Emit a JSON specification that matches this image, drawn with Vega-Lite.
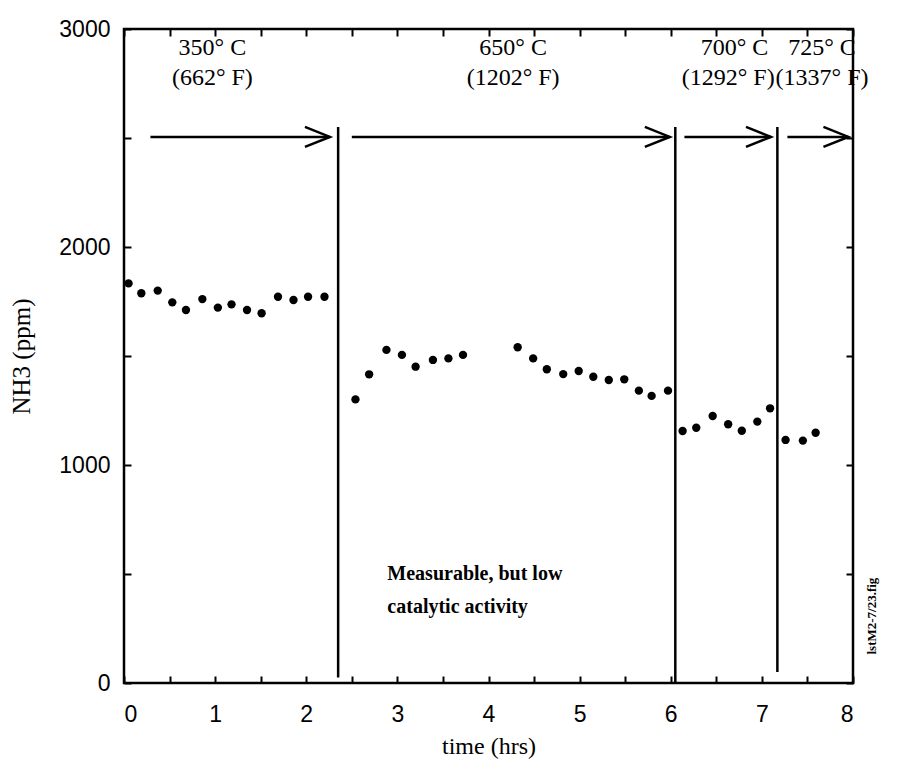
{
  "$schema": "https://vega.github.io/schema/vega-lite/v6.json",
  "width": 729,
  "height": 654,
  "autosize": {"type": "none"},
  "padding": {"left": 124, "top": 29, "right": 48, "bottom": 95},
  "background": "white",
  "config": {
    "view": {"stroke": "black", "strokeWidth": 2.5},
    "axis": {"grid": false, "domain": false, "tickColor": "black", "tickWidth": 2, "labelColor": "black", "titleColor": "black"}
  },
  "datasets": {
    "pts": [
      {"t": 0.05, "nh3": 1833}, {"t": 0.19, "nh3": 1788}, {"t": 0.37, "nh3": 1800}, {"t": 0.53, "nh3": 1746},
      {"t": 0.68, "nh3": 1711}, {"t": 0.86, "nh3": 1761}, {"t": 1.03, "nh3": 1722}, {"t": 1.18, "nh3": 1737},
      {"t": 1.35, "nh3": 1711}, {"t": 1.51, "nh3": 1696}, {"t": 1.69, "nh3": 1772}, {"t": 1.86, "nh3": 1757},
      {"t": 2.02, "nh3": 1772}, {"t": 2.2, "nh3": 1772},
      {"t": 2.54, "nh3": 1301}, {"t": 2.69, "nh3": 1416}, {"t": 2.88, "nh3": 1528}, {"t": 3.05, "nh3": 1505},
      {"t": 3.2, "nh3": 1451}, {"t": 3.39, "nh3": 1482}, {"t": 3.56, "nh3": 1489}, {"t": 3.72, "nh3": 1505},
      {"t": 4.32, "nh3": 1540}, {"t": 4.49, "nh3": 1489}, {"t": 4.64, "nh3": 1439}, {"t": 4.82, "nh3": 1417},
      {"t": 4.99, "nh3": 1431}, {"t": 5.15, "nh3": 1405}, {"t": 5.32, "nh3": 1390}, {"t": 5.49, "nh3": 1393},
      {"t": 5.65, "nh3": 1341}, {"t": 5.79, "nh3": 1317}, {"t": 5.97, "nh3": 1341},
      {"t": 6.13, "nh3": 1156}, {"t": 6.28, "nh3": 1171}, {"t": 6.46, "nh3": 1225}, {"t": 6.63, "nh3": 1187},
      {"t": 6.78, "nh3": 1157}, {"t": 6.95, "nh3": 1199}, {"t": 7.09, "nh3": 1260},
      {"t": 7.26, "nh3": 1115}, {"t": 7.45, "nh3": 1112}, {"t": 7.59, "nh3": 1148}
    ],
    "vlines": [
      {"t": 2.35, "lo": 25, "hi": 2550},
      {"t": 6.05, "lo": 0, "hi": 2550},
      {"t": 7.17, "lo": 50, "hi": 2550}
    ],
    "arrows": [
      {"from": 0.29, "to": 2.26, "nh3": 2505},
      {"from": 2.5, "to": 5.99, "nh3": 2505},
      {"from": 6.15, "to": 7.1, "nh3": 2505},
      {"from": 7.28, "to": 7.95, "nh3": 2505}
    ],
    "temps": [
      {"t": 0.97, "nh3": 2913, "label": "350° C"},
      {"t": 0.97, "nh3": 2775, "label": "(662° F)"},
      {"t": 4.27, "nh3": 2913, "label": "650° C"},
      {"t": 4.27, "nh3": 2775, "label": "(1202° F)"},
      {"t": 6.7, "nh3": 2913, "label": "700° C"},
      {"t": 6.63, "nh3": 2775, "label": "(1292° F)"},
      {"t": 7.66, "nh3": 2913, "label": "725° C"},
      {"t": 7.66, "nh3": 2775, "label": "(1337° F)"}
    ],
    "note": [
      {"t": 2.89, "nh3": 500, "label": "Measurable, but low"},
      {"t": 2.89, "nh3": 349, "label": "catalytic activity"}
    ],
    "figid": [
      {"t": 8.21, "nh3": 307, "label": "lstM2-7/23.fig"}
    ]
  },
  "layer": [
    {
      "data": {"name": "pts"},
      "mark": {"type": "point", "shape": "circle", "filled": true, "color": "black", "size": 70, "opacity": 1},
      "encoding": {
        "x": {"field": "t", "type": "quantitative",
              "scale": {"domain": [0, 8], "nice": false, "zero": false},
              "axis": {"orient": "bottom", "values": [0,0.5,1,1.5,2,2.5,3,3.5,4,4.5,5,5.5,6,6.5,7,7.5,8],
                       "labelExpr": "datum.value % 1 === 0 ? format(datum.value, 'd') : ''",
                       "tickSize": -7, "labelPadding": 27, "labelFont": "Liberation Sans", "labelFontSize": 23,
                       "title": "time (hrs)", "titleFont": "Liberation Serif", "titleFontSize": 24, "titleFontWeight": "normal", "titlePadding": 8}},
        "y": {"field": "nh3", "type": "quantitative",
              "scale": {"domain": [0, 3000], "nice": false},
              "axis": {"orient": "left", "values": [0,500,1000,1500,2000,2500,3000],
                       "labelExpr": "datum.value % 1000 === 0 ? format(datum.value, 'd') : ''",
                       "tickSize": -7, "labelPadding": 21, "labelFont": "Liberation Sans", "labelFontSize": 23,
                       "title": "NH3 (ppm)", "titleFont": "Liberation Serif", "titleFontSize": 25, "titleFontWeight": "normal", "titlePadding": 24}}
      }
    },
    {
      "data": {"name": "vlines"},
      "mark": {"type": "rule", "color": "black", "strokeWidth": 2.5},
      "encoding": {
        "x": {"field": "t", "type": "quantitative",
              "axis": {"orient": "top", "values": [0,0.5,1,1.5,2,2.5,3,3.5,4,4.5,5,5.5,6,6.5,7,7.5,8], "labels": false, "tickSize": -7, "title": null}},
        "y": {"field": "lo", "type": "quantitative",
              "axis": {"orient": "right", "values": [0,500,1000,1500,2000,2500,3000], "labels": false, "tickSize": -7, "title": null}},
        "y2": {"field": "hi"}
      }
    },
    {
      "data": {"name": "arrows"},
      "mark": {"type": "rule", "color": "black", "strokeWidth": 2.5},
      "encoding": {
        "x": {"field": "from", "type": "quantitative", "axis": null},
        "x2": {"field": "to"},
        "y": {"field": "nh3", "type": "quantitative", "axis": null}
      }
    },
    {
      "data": {"name": "arrows"},
      "mark": {"type": "point", "shape": "M-2.5,-1L0,0L-2.5,1", "filled": false, "color": "black", "strokeWidth": 2.5, "size": 400, "opacity": 1},
      "encoding": {
        "x": {"field": "to", "type": "quantitative", "axis": null},
        "y": {"field": "nh3", "type": "quantitative", "axis": null}
      }
    },
    {
      "data": {"name": "temps"},
      "mark": {"type": "text", "font": "Liberation Serif", "fontSize": 24, "color": "black", "align": "center", "baseline": "middle"},
      "encoding": {
        "x": {"field": "t", "type": "quantitative", "axis": null},
        "y": {"field": "nh3", "type": "quantitative", "axis": null},
        "text": {"field": "label"}
      }
    },
    {
      "data": {"name": "note"},
      "mark": {"type": "text", "font": "Liberation Serif", "fontSize": 20, "fontWeight": "bold", "color": "black", "align": "left", "baseline": "middle"},
      "encoding": {
        "x": {"field": "t", "type": "quantitative", "axis": null},
        "y": {"field": "nh3", "type": "quantitative", "axis": null},
        "text": {"field": "label"}
      }
    },
    {
      "data": {"name": "figid"},
      "mark": {"type": "text", "font": "Liberation Serif", "fontSize": 13, "fontWeight": "bold", "color": "black", "align": "center", "baseline": "middle", "angle": 270},
      "encoding": {
        "x": {"field": "t", "type": "quantitative", "axis": null},
        "y": {"field": "nh3", "type": "quantitative", "axis": null},
        "text": {"field": "label"}
      }
    }
  ]
}
